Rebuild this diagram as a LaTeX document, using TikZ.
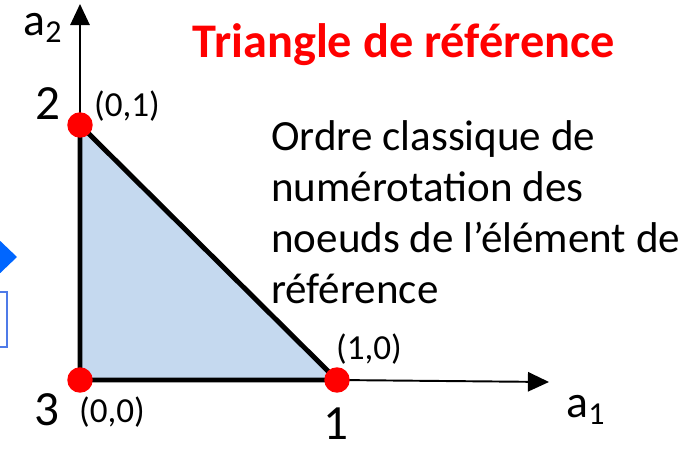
\documentclass[tikz,border=0pt]{standalone}
\usepackage{fontspec}
\setmainfont{Carlito}
\usetikzlibrary{arrows.meta,positioning}
\definecolor{trifill}{HTML}{C5D9EF}
\definecolor{dotred}{HTML}{FF0000}
\definecolor{arrowblue}{HTML}{0066FF}
\definecolor{boxblue}{HTML}{4F7BE8}

\tikzset{
  vertex/.style={circle, fill=dotred, inner sep=0pt, minimum size=14.5pt},
  edge/.style={line width=2.8pt, line cap=round, line join=round},
  axis/.style={line width=1.1pt, -{Triangle[length=12pt,width=11pt]}},
  coord/.style={font=\fontsize{20}{24}\selectfont},
  num/.style={font=\fontsize{28}{32}\selectfont},
  axname/.style={font=\fontsize{26}{30}\selectfont}
}

\begin{document}
\begin{tikzpicture}[x=0.02cm, y=-0.02cm]
  \useasboundingbox (0,0) rectangle (697,453);
  % reference triangle
  \coordinate (p3) at (80,380);
  \coordinate (p1) at (337,380);
  \coordinate (p2) at (80,125);
  \coordinate (xend) at (549,382);
  \coordinate (yend) at (80,4);
  \fill[trifill] (p3) -- (p1) -- (p2) -- cycle;
  \draw[axis] (p1) -- (xend);
  \draw[axis] (p2) -- (yend);
  \draw[edge] (p2) -- (p3) -- (p1) -- cycle;
  \node[vertex] (n3) at (p3) {};
  \node[vertex] (n1) at (p1) {};
  \node[vertex] (n2) at (p2) {};
  % labels
  \node[axname] (a2) at (43,28) {a\textsubscript{2}};
  \node[axname] (a1) at (586,410) {a\textsubscript{1}};
  \node[num] (l2) at (48,104) {2};
  \node[num] (l3) at (47,410) {3};
  \node[num, inner sep=0pt] (l1) at (336,424) {1};
  \node[coord] (c2) at (127,106) {(0,1)};
  \node[coord] (c3) at (112,412) {(0,0)};
  \node[coord] (c1) at (369,349) {(1,0)};
  % text
  \node[text=dotred, font=\fontsize{27.5}{32}\selectfont\bfseries] (title) at (404,45) {Triangle de référence};
  \node[anchor=north west, align=left, inner sep=0pt,
        font=\fontsize{24.5}{29}\selectfont] (descr) at (271,120)
    {Ordre classique de\\numérotation des\\noeuds de l’élément de\\référence};
  % cut-off shapes on the left
  \fill[arrowblue] (-5,236) -- (17,257) -- (-5,278) -- cycle;
  \draw[boxblue, line width=1pt] (-10,292) rectangle (7,347);
\end{tikzpicture}
\end{document}
